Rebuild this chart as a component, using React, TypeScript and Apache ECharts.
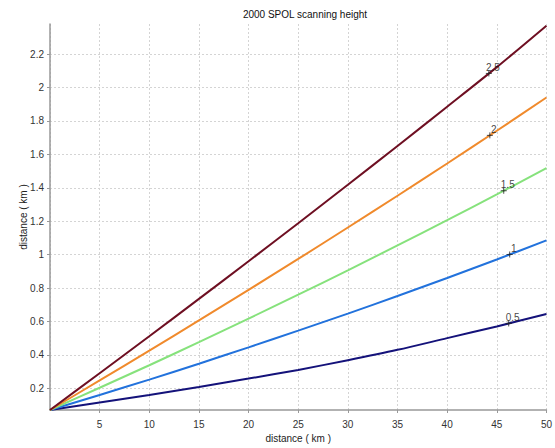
import React, { useEffect, useRef } from "react";
import * as echarts from "echarts";

// Range along the beam (km)
const ranges = [0, 5, 10, 15, 20, 25, 30, 35, 40, 45, 50];

// Beam height (km) for each elevation angle
const elevations = ["0.5", "1", "1.5", "2", "2.5"];
const h05 = [0.07, 0.115, 0.16, 0.208, 0.258, 0.31, 0.368, 0.43, 0.5, 0.57, 0.645];
const h10 = [0.07, 0.16, 0.252, 0.347, 0.445, 0.545, 0.647, 0.752, 0.86, 0.971, 1.085];
const h15 = [0.07, 0.203, 0.338, 0.476, 0.617, 0.76, 0.906, 1.055, 1.206, 1.36, 1.517];
const h20 = [0.07, 0.247, 0.425, 0.606, 0.789, 0.974, 1.162, 1.352, 1.545, 1.741, 1.94];
const h25 = [0.07, 0.29, 0.511, 0.735, 0.96, 1.188, 1.418, 1.65, 1.885, 2.122, 2.37];
const heights = [h05, h10, h15, h20, h25];

// Range where each elevation is labelled
const labelRanges = [46.2, 46.3, 45.7, 44.3, 44.2];

const xTicks = [5, 10, 15, 20, 25, 30, 35, 40, 45, 50];
const yTicks = [0.2, 0.4, 0.6, 0.8, 1, 1.2, 1.4, 1.6, 1.8, 2, 2.2];

const colors = ["#14127a", "#2272dc", "#86e27c", "#f08a2c", "#6e0f22"];

function interp(xs: number[], ys: number[], x: number): number {
  for (let i = 1; i < xs.length; i++) {
    if (x <= xs[i]) {
      const t = (x - xs[i - 1]) / (xs[i] - xs[i - 1]);
      return ys[i - 1] + t * (ys[i] - ys[i - 1]);
    }
  }
  return ys[ys.length - 1];
}

const FONT = "Liberation Sans, Arial, sans-serif";

export default function App() {
  const ref = useRef<HTMLDivElement>(null);

  useEffect(() => {
    if (!ref.current) return;
    const chart = echarts.init(ref.current, undefined, { renderer: "svg" });

    const lineSeries = heights.map((hs, i) => ({
      type: "line",
      name: elevations[i],
      data: ranges.map((r, j) => [r, hs[j]]),
      showSymbol: false,
      smooth: 0.3,
      lineStyle: { color: colors[i], width: 2 },
      z: 3,
    }));

    const labelSeries = {
      type: "scatter",
      symbol: "path://M5,0L5,10M0,5L10,5",
      symbolSize: 6,
      itemStyle: { color: "none", borderColor: "#222", borderWidth: 1 },
      data: heights.map((hs, i) => ({
        value: [labelRanges[i], interp(ranges, hs, labelRanges[i])],
        label: {
          show: true,
          formatter: elevations[i],
          position: "inside",
          offset: [4, -6],
          color: "#111",
          fontSize: 10,
          fontFamily: FONT,
        },
      })),
      z: 5,
    };

    chart.setOption({
      animation: false,
      backgroundColor: "#ffffff",
      title: {
        text: "2000 SPOL scanning height",
        left: 300,
        textAlign: "center",
        top: 4,
        textStyle: { fontSize: 10, fontWeight: "normal", color: "#111", fontFamily: FONT },
      },
      grid: { left: 50, right: 5, top: 24, bottom: 31 },
      xAxis: {
        type: "value",
        min: 0,
        max: 50,
        interval: 5,
        name: "distance ( km )",
        nameLocation: "middle",
        nameGap: 23,
        nameMoveOverlap: false,
        nameTextStyle: { fontSize: 10, color: "#222", fontFamily: FONT },
        axisLine: { lineStyle: { color: "#999", width: 1.5 } },
        axisTick: { show: true, length: 3, lineStyle: { color: "#999" } },
        axisLabel: {
          showMinLabel: false,
          fontSize: 10,
          color: "#333",
          fontFamily: FONT,
          margin: 9,
          formatter: (v: number) => (xTicks.includes(v) ? String(v) : ""),
        },
        splitLine: { show: true, lineStyle: { color: "#d4d4d4", type: [2, 2], width: 1 } },
      },
      yAxis: {
        type: "value",
        min: 0.07,
        max: 2.38,
        name: "distance ( km )",
        nameLocation: "middle",
        nameGap: 22,
        nameMoveOverlap: false,
        nameRotate: 90,
        nameTextStyle: { fontSize: 10, color: "#222", fontFamily: FONT },
        axisLine: { show: true, lineStyle: { color: "#999", width: 1.5 } },
        axisTick: { show: true, length: 3, customValues: yTicks, lineStyle: { color: "#999" } },
        axisLabel: {
          customValues: yTicks,
          fontSize: 10,
          color: "#333",
          fontFamily: FONT,
          margin: 6,
          formatter: (v: number) => String(Math.round(v * 10) / 10),
        },
        splitLine: { show: true, lineStyle: { color: "#d4d4d4", type: [2, 2], width: 1 } },
      },
      series: [...lineSeries, labelSeries],
    });

    return () => chart.dispose();
  }, []);

  return (
    <div
      ref={ref}
      style={{ position: "fixed", left: 0, top: 0, width: 555, height: 448 }}
    />
  );
}
